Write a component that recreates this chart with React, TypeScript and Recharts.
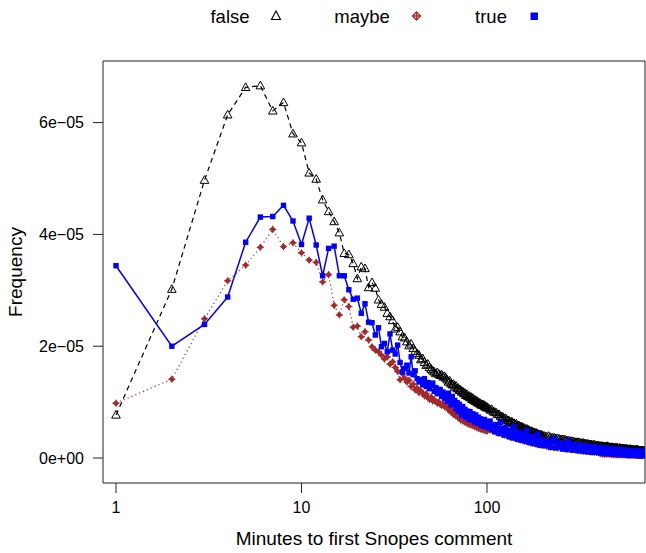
import * as React from "react";
import { LineChart, Line, XAxis, YAxis, Label } from "recharts";

// minutes to first Snopes comment (x, log scale)
const minutes = [
  1, 2, 3, 4, 5, 6, 7, 8, 9, 10, 11, 12, 13, 14, 15, 16, 17, 18, 19, 20,
  21, 22, 23, 24, 25, 26, 27, 28, 29, 30, 31, 32, 33, 34, 35, 36, 37, 38, 39, 40,
  41, 42, 43, 44, 45, 46, 47, 48, 49, 50, 51, 52, 53, 54, 55, 56, 57, 58, 59, 60,
  61, 62, 63, 64, 65, 66, 67, 68, 69, 70, 71, 72, 73, 74, 75, 76, 77, 78, 79, 80,
  81, 82, 83, 84, 85, 86, 87, 88, 89, 90, 91, 92, 93, 94, 95, 96, 97, 98, 99, 100,
  102, 104, 106, 108, 110, 112, 114, 116, 118, 120, 122, 124, 126, 128, 130, 132, 134, 136, 138, 140,
  142, 144, 146, 148, 150, 152, 154, 156, 158, 160, 162, 164, 166, 168, 170, 172, 174, 176, 178, 180,
  182, 184, 186, 188, 190, 192, 194, 196, 198, 200,
  205, 210, 215, 220, 225, 230, 235, 240, 245, 250, 255, 260, 265, 270, 275, 280, 285, 290, 295, 300,
  305, 310, 315, 320, 325, 330, 335, 340, 345, 350, 355, 360, 365, 370, 375, 380, 385, 390, 395, 400,
  405, 410, 415, 420, 425, 430, 435, 440, 445, 450, 455, 460, 465, 470, 475, 480, 485, 490, 495, 500,
  505, 510, 515, 520, 525, 530, 535, 540, 545, 550, 555, 560, 565, 570, 575, 580, 585, 590, 595, 600,
  605, 610, 615, 620, 625, 630, 635, 640, 645, 650, 655, 660, 665, 670, 675, 680, 685, 690, 695, 700,
];

// frequency values, in units of 1e-6
const falseFreq = [
  7.7, 30.2, 49.7, 61.4, 66.3, 66.6, 62.1, 63.6, 58.0, 56.4, 51.0, 49.9, 46.2, 44.1, 42.3, 40.3, 36.6, 36.4, 34.8, 32.1,
  34.2, 33.9, 30.5, 31.4, 30.4, 28.3, 27.5, 27.0, 25.9, 25.3, 24.6, 23.1, 23.4, 22.6, 21.7, 21.5, 20.8, 20.1, 20.4, 19.6,
  19.1, 18.7, 18.4, 17.6, 17.8, 17.1, 16.6, 16.8, 16.2, 15.9, 15.6, 15.4, 15.1, 15.3, 15.0, 14.8, 14.9, 14.5, 14.6, 14.3,
  14.0, 13.6, 13.8, 13.3, 13.1, 13.2, 12.7, 12.9, 12.4, 12.5, 12.1, 12.2, 11.8, 11.9, 11.5, 11.6, 11.2, 11.4, 11.0, 11.1,
  10.8, 10.9, 10.5, 10.7, 10.3, 10.4, 10.1, 10.2, 9.9, 10.0, 9.7, 9.8, 9.5, 9.6, 9.4, 9.5, 9.2, 9.3, 9.0, 9.1,
  8.9, 8.6, 8.7, 8.3, 8.2, 8.1, 7.8, 7.8, 7.5, 7.4, 7.3, 7.0, 7.1, 6.8, 6.7, 6.6, 6.4, 6.5, 6.2, 6.2,
  6.0, 6.1, 5.8, 5.8, 5.7, 5.5, 5.6, 5.3, 5.4, 5.2, 5.1, 5.2, 4.9, 5.0, 4.8, 4.7, 4.8, 4.6, 4.6, 4.5,
  4.4, 4.5, 4.3, 4.3, 4.2, 4.1, 4.2, 4.0, 4.1, 4.0,
  3.9, 3.8, 3.9, 3.7, 3.6, 3.6, 3.5, 3.5, 3.4, 3.3, 3.3, 3.3, 3.2, 3.1, 3.1, 3.0, 3.0, 2.9, 2.9, 2.8,
  2.8, 2.8, 2.7, 2.7, 2.6, 2.7, 2.6, 2.5, 2.5, 2.5, 2.4, 2.4, 2.4, 2.3, 2.3, 2.4, 2.2, 2.2, 2.2, 2.2,
  2.1, 2.1, 2.1, 2.1, 2.0, 2.0, 2.0, 2.0, 2.1, 2.0, 1.9, 1.9, 1.9, 1.9, 1.9, 1.8, 1.8, 1.8, 1.8, 1.8,
  1.8, 1.7, 1.7, 1.8, 1.7, 1.7, 1.7, 1.7, 1.6, 1.6, 1.6, 1.6, 1.6, 1.6, 1.5, 1.5, 1.5, 1.6, 1.5, 1.5,
  1.5, 1.5, 1.4, 1.4, 1.4, 1.4, 1.4, 1.5, 1.4, 1.4, 1.4, 1.3, 1.3, 1.3, 1.3, 1.3, 1.3, 1.3, 1.3, 1.3,
];

const maybeFreq = [
  9.8, 14.1, 24.9, 31.7, 34.5, 37.7, 40.9, 37.8, 38.5, 36.7, 35.4, 35.0, 31.5, 32.8, 27.3, 25.6, 28.3, 27.1, 23.4, 23.6,
  21.7, 22.6, 21.1, 19.9, 19.3, 19.0, 18.4, 17.7, 18.1, 16.8, 17.2, 16.2, 15.5, 14.0, 15.1, 14.3, 13.6, 13.9, 12.8, 13.2,
  12.2, 12.5, 11.7, 12.0, 11.6, 11.1, 11.5, 10.8, 10.5, 10.9, 10.2, 10.4, 10.1, 9.8, 10.0, 9.6, 9.4, 9.7, 9.2, 9.5,
  9.1, 8.6, 9.0, 8.2, 8.5, 7.8, 8.3, 7.5, 7.9, 7.2, 7.6, 6.8, 7.3, 6.6, 7.0, 6.4, 6.9, 6.2, 6.7, 6.0,
  6.5, 5.9, 6.3, 5.8, 6.2, 5.6, 6.0, 5.5, 5.9, 5.3, 5.8, 5.2, 5.6, 5.1, 5.5, 5.0, 5.4, 4.9, 5.3, 4.8,
  5.4, 5.0, 5.3, 4.8, 5.1, 4.6, 4.9, 4.4, 4.8, 4.3, 4.6, 4.1, 4.4, 4.0, 4.3, 3.8, 4.1, 3.7, 4.0, 3.6,
  3.8, 3.4, 3.7, 3.3, 3.6, 3.2, 3.5, 3.1, 3.4, 3.0, 3.3, 2.9, 3.2, 2.8, 3.1, 2.7, 3.0, 2.7, 2.9, 2.6,
  2.8, 2.5, 2.8, 2.4, 2.7, 2.4, 2.6, 2.3, 2.5, 2.3,
  2.3, 2.1, 2.3, 2.0, 2.2, 1.9, 2.1, 1.8, 2.0, 1.8, 1.9, 1.7, 1.9, 1.6, 1.8, 1.6, 1.7, 1.5, 1.7, 1.5,
  1.5, 1.3, 1.5, 1.3, 1.4, 1.2, 1.4, 1.2, 1.3, 1.2, 1.3, 1.1, 1.3, 1.1, 1.2, 1.1, 1.2, 1.0, 1.2, 1.0,
  0.9, 0.8, 0.9, 0.7, 0.9, 0.7, 0.8, 0.7, 0.8, 0.7, 0.8, 0.7, 0.8, 0.6, 0.8, 0.6, 0.7, 0.6, 0.7, 0.6,
  0.7, 0.6, 0.7, 0.6, 0.7, 0.6, 0.7, 0.6, 0.6, 0.6, 0.6, 0.6, 0.6, 0.5, 0.6, 0.5, 0.6, 0.5, 0.6, 0.5,
  0.6, 0.5, 0.6, 0.5, 0.6, 0.5, 0.6, 0.5, 0.5, 0.5, 0.5, 0.5, 0.5, 0.5, 0.5, 0.5, 0.5, 0.5, 0.5, 0.5,
];

const trueFreq = [
  34.4, 20.0, 23.9, 28.8, 38.6, 43.1, 43.2, 45.2, 42.4, 38.2, 42.9, 38.1, 32.6, 37.5, 37.9, 32.6, 32.6, 30.1, 28.4, 28.6,
  25.9, 27.6, 24.3, 24.2, 22.0, 23.3, 19.9, 20.5, 19.0, 22.2, 19.3, 18.6, 20.2, 17.1, 15.4, 16.0, 16.6, 15.2, 18.1, 14.9,
  15.6, 14.2, 13.6, 14.0, 13.1, 14.2, 12.8, 13.5, 12.4, 13.0, 13.4, 11.9, 12.6, 11.5, 12.3, 12.2, 11.0, 11.8, 10.7, 11.3,
  10.2, 11.6, 10.4, 9.5, 11.0, 9.8, 10.3, 8.9, 9.9, 8.4, 9.6, 8.8, 7.6, 9.2, 8.1, 8.7, 7.3, 8.4, 7.9, 6.9,
  8.3, 7.4, 6.8, 7.9, 7.0, 6.4, 7.7, 6.9, 6.2, 7.3, 6.5, 7.0, 5.9, 6.8, 6.3, 5.7, 6.9, 6.0, 5.6, 6.5,
  5.4, 6.6, 5.1, 5.9, 4.7, 6.0, 5.2, 4.4, 6.4, 4.6, 5.3, 4.1, 5.5, 4.3, 4.9, 3.8, 5.0, 4.2, 3.6, 5.6,
  3.9, 4.5, 3.4, 4.6, 3.7, 4.3, 3.2, 4.4, 3.5, 3.9, 3.0, 4.9, 3.3, 3.7, 2.8, 3.9, 3.1, 3.5, 2.6, 3.7,
  2.9, 3.3, 2.5, 4.3, 2.8, 3.1, 2.3, 3.3, 2.6, 3.0,
  2.2, 3.1, 2.5, 1.9, 2.9, 3.4, 1.8, 2.8, 2.0, 2.5, 1.6, 2.6, 2.1, 1.5, 3.0, 1.9, 2.3, 1.4, 2.4, 1.8,
  2.2, 1.3, 2.3, 1.7, 2.1, 1.2, 2.2, 1.6, 2.0, 1.1, 2.1, 1.5, 1.9, 1.0, 2.0, 1.4, 1.8, 1.0, 1.9, 1.3,
  1.7, 0.9, 1.8, 1.3, 1.6, 0.8, 1.8, 1.2, 1.5, 0.8, 1.7, 1.1, 1.5, 0.7, 1.6, 1.1, 1.4, 0.7, 1.6, 1.0,
  1.3, 0.6, 1.5, 1.0, 1.3, 0.6, 1.5, 0.9, 1.2, 0.6, 1.4, 0.9, 1.2, 0.5, 1.4, 0.9, 1.1, 0.5, 1.3, 0.8,
  1.1, 0.5, 1.3, 0.8, 1.1, 0.5, 1.3, 0.8, 1.0, 0.4, 1.2, 0.8, 1.0, 0.4, 1.2, 0.7, 1.0, 0.4, 1.2, 0.7,
];

const xTicks = [1, 10, 100];
const yTicks = [0, 20, 40, 60];

const data = minutes.map((m, i) => ({
  minute: m,
  false: falseFreq[i],
  maybe: maybeFreq[i],
  true: trueFreq[i],
}));

const FONT = '"Liberation Sans", Arial, sans-serif';
const BROWN = "#A52A2A";
const BLUE = "#0000FF";
const X_DOMAIN = [0.851, 711];
const Y_DOMAIN = [-4.47, 71.02];

const fmtY = (v: number) => (v === 0 ? "0e+00" : `${v / 10}e\u221205`);

function TriangleDot({ cx, cy, size = 4.3 }: { cx?: number; cy?: number; size?: number }) {
  if (cx == null || cy == null) return <g />;
  const h = size * 1.05;
  return (
    <path
      d={`M${cx},${cy - h}L${cx + size},${cy + h * 0.7}L${cx - size},${cy + h * 0.7}Z`}
      fill="none"
      stroke="#000"
      strokeWidth={1}
    />
  );
}

function CrossDiamondDot({ cx, cy, r = 2.8 }: { cx?: number; cy?: number; r?: number }) {
  if (cx == null || cy == null) return <g />;
  return (
    <g>
      <path
        d={`M${cx},${cy - r}L${cx + r},${cy}L${cx},${cy + r}L${cx - r},${cy}Z`}
        fill={BROWN}
        stroke={BROWN}
        strokeWidth={1}
      />
      <path d={`M${cx - r - 0.8},${cy}H${cx + r + 0.8}M${cx},${cy - r - 0.8}V${cy + r + 0.8}`} stroke={BROWN} strokeWidth={1} />
    </g>
  );
}

function SquareDot({ cx, cy, s = 5.4 }: { cx?: number; cy?: number; s?: number }) {
  if (cx == null || cy == null) return <g />;
  return <rect x={cx - s / 2} y={cy - s / 2} width={s} height={s} fill={BLUE} />;
}

// key at the top, as lattice draws it
function TopKey() {
  return (
    <svg
      width={646}
      height={40}
      style={{ position: "absolute", left: 0, top: 0, pointerEvents: "none" }}
    >
      <g fontFamily={FONT} fontSize={18.5} fill="#000" textAnchor="middle">
        <text x={230} y={23}>false</text>
        <text x={362} y={23}>maybe</text>
        <text x={491} y={23}>true</text>
      </g>
      <path d="M276,11 L280.5,19.5 L271.5,19.5 Z" fill="none" stroke="#000" strokeWidth={1.1} />
      <g stroke={BROWN} strokeWidth={1.3} fill="none">
        <path d="M416.5,12 L420.5,16 L416.5,20 L412.5,16 Z" />
        <path d="M412.5,16 H420.5 M416.5,12 V20" />
      </g>
      <rect x={530.5} y={12.5} width={7.5} height={7.5} fill={BLUE} />
    </svg>
  );
}

export default function App() {
  return (
    <div style={{ position: "absolute", left: 0, top: 0, width: 646, height: 553, background: "#fff" }}>
      <LineChart
        width={646}
        height={553}
        data={data}
        margin={{ top: 0, right: 0, bottom: 0, left: 0 }}
        style={{ fontFamily: FONT }}
      >
        <XAxis
          xAxisId="bottom"
          dataKey="minute"
          type="number"
          scale="log"
          domain={X_DOMAIN}
          allowDataOverflow
          ticks={xTicks}
          interval={0}
          height={70}
          tickSize={10}
          tickMargin={9}
          tick={{ fill: "#000", fontSize: 16 }}
          axisLine={{ stroke: "#222" }}
          tickLine={{ stroke: "#222" }}
        >
          <Label
            value="Minutes to first Snopes comment"
            position="insideBottom"
            offset={8}
            style={{ fontSize: 19, fill: "#000", fontFamily: FONT }}
          />
        </XAxis>
        <XAxis
          xAxisId="top"
          orientation="top"
          dataKey="minute"
          type="number"
          scale="log"
          domain={X_DOMAIN}
          allowDataOverflow
          ticks={xTicks}
          interval={0}
          height={61}
          tickSize={9}
          tick={false}
          axisLine={{ stroke: "#222" }}
          tickLine={{ stroke: "#222" }}
        />
        <YAxis
          yAxisId="left"
          type="number"
          domain={Y_DOMAIN}
          allowDataOverflow
          ticks={yTicks}
          interval={0}
          width={103}
          tickSize={10}
          tickMargin={9}
          tickFormatter={fmtY}
          tick={{ fill: "#000", fontSize: 16 }}
          axisLine={{ stroke: "#222" }}
          tickLine={{ stroke: "#222" }}
        >
          <Label
            value="Frequency"
            angle={-90}
            position="insideLeft"
            offset={15}
            style={{ fontSize: 19, fill: "#000", textAnchor: "middle", fontFamily: FONT }}
          />
        </YAxis>
        <YAxis
          yAxisId="right"
          orientation="right"
          type="number"
          domain={Y_DOMAIN}
          allowDataOverflow
          width={1}
          tick={false}
          tickLine={false}
          axisLine={{ stroke: "#222" }}
        />
        <Line
          xAxisId="bottom"
          yAxisId="left"
          dataKey="false"
          stroke="#000"
          strokeWidth={1.2}
          strokeDasharray="5 4"
          dot={(p: any) => <TriangleDot key={`f${p.index}`} cx={p.cx} cy={p.cy} />}
          activeDot={false}
          isAnimationActive={false}
        />
        <Line
          xAxisId="bottom"
          yAxisId="left"
          dataKey="maybe"
          stroke={BROWN}
          strokeWidth={1.2}
          strokeDasharray="1.2 3"
          dot={(p: any) => <CrossDiamondDot key={`m${p.index}`} cx={p.cx} cy={p.cy} />}
          activeDot={false}
          isAnimationActive={false}
        />
        <Line
          xAxisId="bottom"
          yAxisId="left"
          dataKey="true"
          stroke={BLUE}
          strokeWidth={1.5}
          dot={(p: any) => <SquareDot key={`t${p.index}`} cx={p.cx} cy={p.cy} />}
          activeDot={false}
          isAnimationActive={false}
        />
      </LineChart>
      <TopKey />
    </div>
  );
}
